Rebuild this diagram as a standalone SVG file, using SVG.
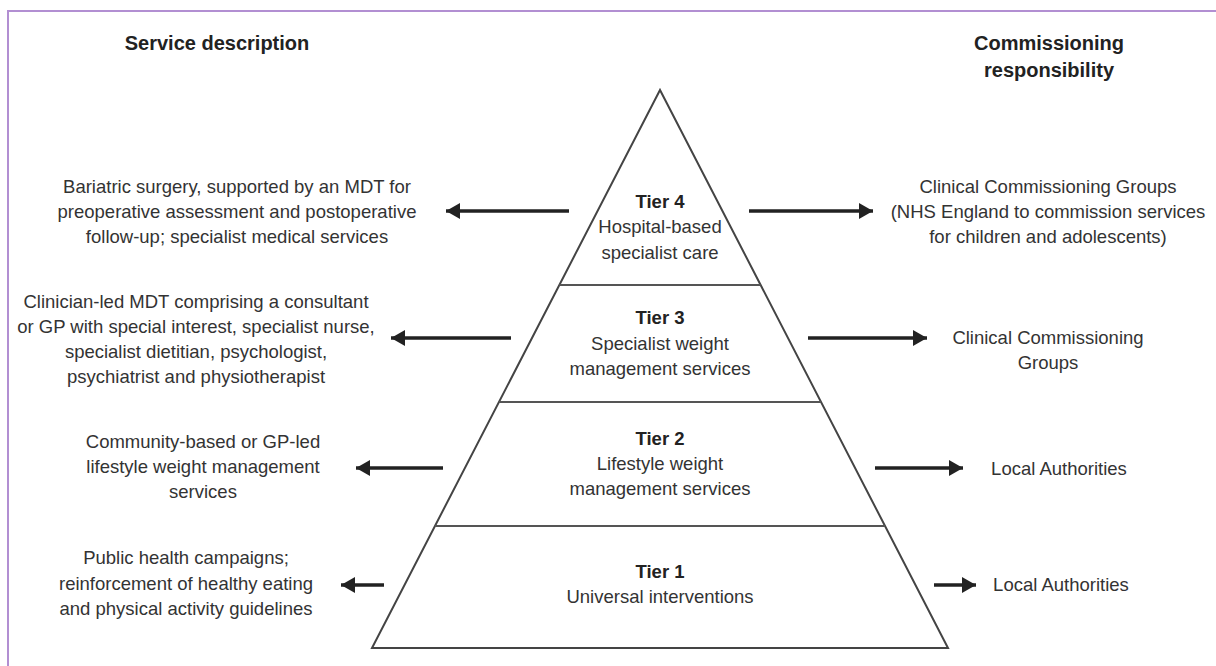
<svg xmlns="http://www.w3.org/2000/svg" width="1216" height="666" viewBox="0 0 1216 666">
<style>
  text { font-family: "Liberation Sans", Arial, sans-serif; fill: #333; font-size: 18.5px; text-anchor: middle; }
  .h { font-weight: bold; font-size: 20px; fill: #222; }
  .b { font-weight: bold; fill: #222; }
  .tier { fill: #fff; stroke: #444; stroke-width: 2; }
  .sep { stroke: #555; stroke-width: 2; }
  .arr { stroke: #222; stroke-width: 3.5; fill: none; marker-end: url(#ah); }
</style>
<defs>
  <marker id="ah" markerUnits="userSpaceOnUse" markerWidth="18" markerHeight="18" refX="14" refY="8" orient="auto">
    <path d="M0,0 L14,8 L0,16 Z" fill="#222"/>
  </marker>
</defs>
<rect width="1216" height="666" fill="#fff"/>
<g id="frame" stroke="#b28fd2" stroke-width="2" fill="none">
  <path d="M8,666 L8,11 L1216,11"/>
</g>
<g id="headers">
  <text class="h" x="217" y="50">Service description</text>
  <text class="h" x="1049" y="50">Commissioning</text>
  <text class="h" x="1049" y="77">responsibility</text>
</g>
<g id="pyramid">
  <polygon class="tier" points="660,90 372,648 948,648"/>
  <line class="sep" x1="559.4" y1="285" x2="760.6" y2="285"/>
  <line class="sep" x1="499" y1="402" x2="821" y2="402"/>
  <line class="sep" x1="435" y1="526" x2="885" y2="526"/>
</g>
<g id="tier4">
  <text class="b" x="660" y="208">Tier 4</text>
  <text x="660" y="233">Hospital-based</text>
  <text x="660" y="259">specialist care</text>
</g>
<g id="tier3">
  <text class="b" x="660" y="324">Tier 3</text>
  <text x="660" y="350">Specialist weight</text>
  <text x="660" y="375">management services</text>
</g>
<g id="tier2">
  <text class="b" x="660" y="445">Tier 2</text>
  <text x="660" y="470">Lifestyle weight</text>
  <text x="660" y="495">management services</text>
</g>
<g id="tier1">
  <text class="b" x="660" y="578">Tier 1</text>
  <text x="660" y="603">Universal interventions</text>
</g>
<g id="service4">
  <text x="237" y="193">Bariatric surgery, supported by an MDT for</text>
  <text x="237" y="218">preoperative assessment and postoperative</text>
  <text x="237" y="243">follow-up; specialist medical services</text>
</g>
<g id="service3">
  <text x="196" y="308">Clinician-led MDT comprising a consultant</text>
  <text x="196" y="333">or GP with special interest, specialist nurse,</text>
  <text x="196" y="358">specialist dietitian, psychologist,</text>
  <text x="196" y="383">psychiatrist and physiotherapist</text>
</g>
<g id="service2">
  <text x="203" y="448">Community-based or GP-led</text>
  <text x="203" y="473">lifestyle weight management</text>
  <text x="203" y="498">services</text>
</g>
<g id="service1">
  <text x="186" y="564">Public health campaigns;</text>
  <text x="186" y="590">reinforcement of healthy eating</text>
  <text x="186" y="615">and physical activity guidelines</text>
</g>
<g id="commission4">
  <text x="1048" y="193">Clinical Commissioning Groups</text>
  <text x="1048" y="218">(NHS England to commission services</text>
  <text x="1048" y="243">for children and adolescents)</text>
</g>
<g id="commission3">
  <text x="1048" y="344">Clinical Commissioning</text>
  <text x="1048" y="369">Groups</text>
</g>
<g id="commission2">
  <text x="1059" y="475">Local Authorities</text>
</g>
<g id="commission1">
  <text x="1061" y="591">Local Authorities</text>
</g>
<g id="connectors">
  <line class="arr" x1="569" y1="211" x2="446" y2="211"/>
  <line class="arr" x1="749" y1="211" x2="873" y2="211"/>
  <line class="arr" x1="511" y1="338" x2="391" y2="338"/>
  <line class="arr" x1="808" y1="338" x2="927" y2="338"/>
  <line class="arr" x1="443" y1="468" x2="356" y2="468"/>
  <line class="arr" x1="875" y1="468" x2="963" y2="468"/>
  <line class="arr" x1="384" y1="585" x2="341" y2="585"/>
  <line class="arr" x1="934" y1="585" x2="976" y2="585"/>
</g>
</svg>
